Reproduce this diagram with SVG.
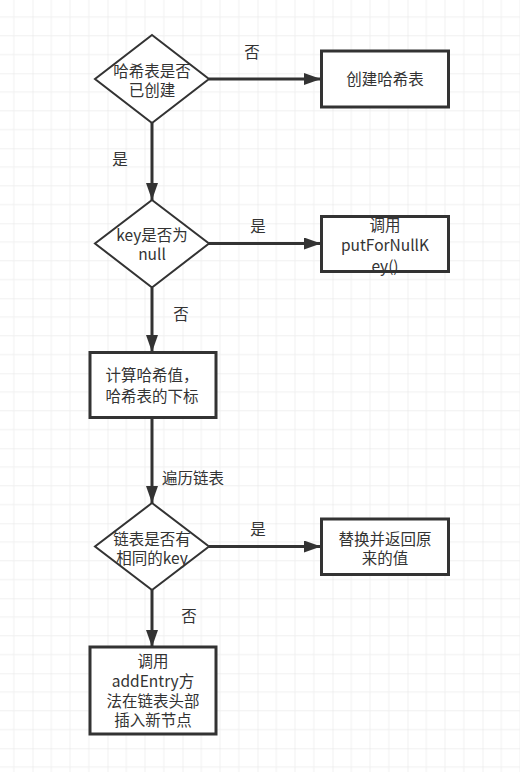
<svg xmlns="http://www.w3.org/2000/svg" width="520" height="772" viewBox="0 0 520 772">
<defs>
<pattern id="grid" x="32.5" y="-1.7" width="75" height="75" patternUnits="userSpaceOnUse">
<path d="M18.75 0V75M37.5 0V75M56.25 0V75M0 18.75H75M0 37.5H75M0 56.25H75" stroke="#f0f0f0" stroke-width="1" fill="none"/>
<path d="M0 0V75M0 0H75" stroke="#e4e4e4" stroke-width="1" fill="none"/>
</pattern>
<marker id="arr" markerUnits="userSpaceOnUse" markerWidth="20" markerHeight="14" refX="17" refY="6" orient="auto" viewBox="0 0 20 14">
<path d="M0 0L17 6L0 12Z" fill="#333"/>
</marker>
</defs>
<style>
.shape{fill:#fff;stroke:#333;}
.dia{stroke-width:2;}
.box{stroke-width:3;}
.conn{stroke:#333;stroke-width:3;fill:none;}
text{font-family:"Microsoft YaHei","Noto Sans CJK SC","Noto Sans",sans-serif;font-size:15.5px;fill:#333;}
.c{text-anchor:middle;}
</style>
<rect width="520" height="772" fill="#fff"/>
<rect width="520" height="772" fill="url(#grid)"/>
<g id="connectors">
<line class="conn" x1="209" y1="79" x2="321" y2="79" marker-end="url(#arr)"/>
<line class="conn" x1="152" y1="123" x2="152" y2="200" marker-end="url(#arr)"/>
<line class="conn" x1="209" y1="243.5" x2="321" y2="243.5" marker-end="url(#arr)"/>
<line class="conn" x1="152" y1="287.5" x2="152" y2="352" marker-end="url(#arr)"/>
<line class="conn" x1="152" y1="417" x2="152" y2="503" marker-end="url(#arr)"/>
<line class="conn" x1="209" y1="546.5" x2="321" y2="546.5" marker-end="url(#arr)"/>
<line class="conn" x1="152" y1="590" x2="152" y2="647" marker-end="url(#arr)"/>
<text class="c" x="252" y="57.5">否</text>
<text class="c" x="120" y="165">是</text>
<text class="c" x="258" y="232">是</text>
<text class="c" x="181" y="319.5">否</text>
<text x="162" y="483.5">遍历链表</text>
<text class="c" x="258" y="535">是</text>
<text class="c" x="189" y="622">否</text>
</g>
<g id="n1">
<path class="shape dia" d="M152 35L209 79L152 123L95 79Z"/>
<text class="c" x="152" y="76.5">哈希表是否</text>
<text class="c" x="152" y="95.5">已创建</text>
</g>
<g id="n2">
<rect class="shape box" x="321.5" y="51" width="127" height="56"/>
<text class="c" x="385" y="84.5">创建哈希表</text>
</g>
<g id="n3">
<path class="shape dia" d="M152 200L209 243.5L152 287.5L95 243.5Z"/>
<text class="c" x="152" y="241">key是否为</text>
<text class="c" x="152" y="260">null</text>
</g>
<g id="n4">
<rect class="shape box" x="321.5" y="216.5" width="127" height="55"/>
<text class="c" x="385" y="230.5">调用</text>
<text class="c" x="385" y="251">putForNullK</text>
<text class="c" x="385" y="271.5">ey()</text>
</g>
<g id="n5">
<rect class="shape box" x="90" y="352.5" width="126" height="65"/>
<text class="c" x="152" y="380.5">计算哈希值，</text>
<text class="c" x="152" y="401.5">哈希表的下标</text>
</g>
<g id="n6">
<path class="shape dia" d="M152 503L209 546.5L152 590L95 546.5Z"/>
<text class="c" x="152" y="544.5">链表是否有</text>
<text class="c" x="152" y="564">相同的key</text>
</g>
<g id="n7">
<rect class="shape box" x="321.5" y="519" width="127" height="55.5"/>
<text class="c" x="385" y="544.5">替换并返回原</text>
<text class="c" x="385" y="564">来的值</text>
</g>
<g id="n8">
<rect class="shape box" x="90" y="647" width="126" height="87"/>
<text class="c" x="153" y="667">调用</text>
<text class="c" x="153" y="687">addEntry方</text>
<text class="c" x="153" y="707">法在链表头部</text>
<text class="c" x="153" y="726">插入新节点</text>
</g>
</svg>
